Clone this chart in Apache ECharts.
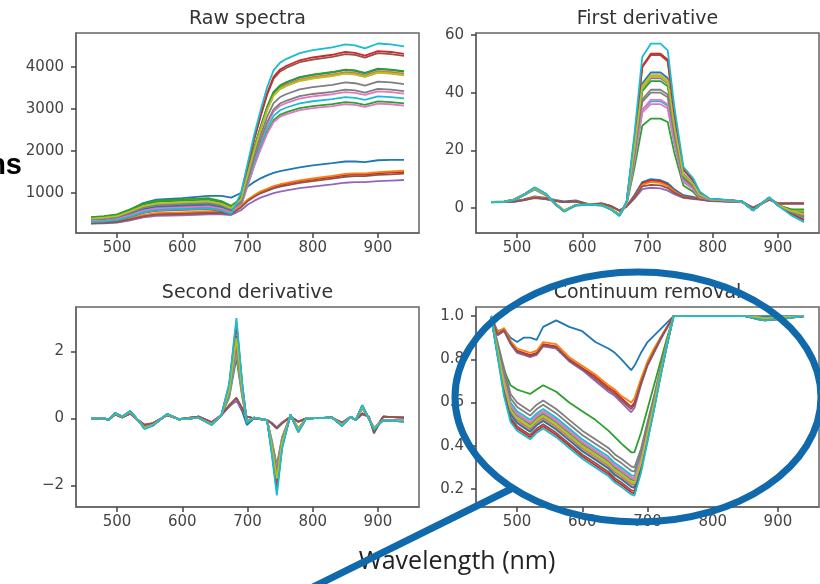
<!DOCTYPE html>
<html><head><meta charset="utf-8">
<script src="https://cdn.jsdelivr.net/npm/echarts@6/dist/echarts.min.js"></script>
<style>html,body{margin:0;padding:0;background:#fff}#c{width:820px;height:584px}</style>
</head><body><div id="c"></div>
<script>
// ---------- labels & ticks ----------
const panelTitles = ['Raw spectra', 'First derivative', 'Second derivative', 'Continuum removal'];
const xAxisLabel = 'Wavelength (nm)';
const sideLabel = 'ns';
const xTicks = [500, 600, 700, 800, 900];
const yTicksRaw = [1000, 2000, 3000, 4000];
const yTicksD1 = [0, 20, 40, 60];
const yTicksD2 = [-2, 0, 2];
const yTicksCR = [0.2, 0.4, 0.6, 0.8, 1.0];

// ---------- Raw spectra ----------
const wavelengthsRaw = [460,480,500,520,540,560,600,640,660,675,690,700,710,720,730,740,750,760,780,800,830,850,865,880,900,920,940];
const rawSpectra = [
 [420,440,480,600,760,840,880,930,930,890,1000,1150,1260,1350,1420,1480,1520,1550,1610,1660,1710,1750,1750,1735,1780,1790,1790],
 [360,382,418,518,634,691,720,742,684,590,858,1443,2028,2535,3003,3354,3510,3588,3705,3764,3822,3881,3861,3803,3900,3881,3842],
 [410,435,476,590,722,787,820,845,779,672,700,1177,1654,2067,2449,2735,2862,2926,3021,3069,3116,3164,3148,3100,3180,3164,3132],
 [290,300,320,380,460,500,520,540,540,520,675,825,930,1020,1080,1140,1185,1215,1275,1320,1380,1425,1440,1440,1470,1485,1500],
 [325,345,377,468,572,624,650,670,618,533,854,1436,2018,2522,2988,3337,3492,3570,3686,3744,3802,3861,3841,3783,3880,3861,3822],
 [320,339,371,461,563,614,640,659,608,525,953,1602,2252,2815,3334,3724,3897,3984,4114,4178,4243,4308,4287,4222,4330,4308,4265],
 [350,371,406,504,616,672,700,721,665,574,689,1158,1628,2035,2410,2692,2817,2880,2974,3020,3067,3114,3099,3052,3130,3114,3083],
 [340,360,394,490,598,653,680,700,646,558,803,1351,1898,2373,2811,3139,3285,3358,3468,3522,3577,3632,3614,3559,3650,3632,3595],
 [380,403,441,547,669,730,760,783,722,623,851,1432,2012,2516,2980,3328,3483,3560,3677,3735,3793,3851,3831,3773,3870,3851,3812],
 [310,329,360,446,546,595,620,639,589,508,726,1221,1716,2145,2541,2838,2970,3036,3135,3185,3234,3284,3267,3218,3300,3284,3251],
 [350,371,406,504,616,672,700,721,665,574,869,1462,2054,2568,3042,3397,3555,3634,3753,3812,3871,3930,3911,3851,3950,3930,3891],
 [300,310,330,395,475,520,540,560,560,540,689,842,949,1040,1102,1163,1209,1239,1301,1346,1408,1454,1469,1469,1499,1515,1530],
 [425,451,493,612,748,816,850,876,808,697,871,1465,2059,2574,3049,3406,3564,3643,3762,3821,3881,3940,3920,3861,3960,3940,3901],
 [300,318,348,432,528,576,600,618,570,492,964,1621,2278,2847,3373,3767,3942,4030,4161,4227,4292,4358,4336,4271,4380,4358,4314],
 [270,280,295,350,420,455,470,490,490,475,590,721,812,891,943,996,1035,1061,1114,1153,1205,1245,1258,1258,1284,1297,1310],
 [280,290,310,370,445,485,500,520,520,500,657,803,905,993,1051,1110,1153,1183,1241,1285,1343,1387,1402,1402,1431,1445,1460],
 [330,350,383,475,581,634,660,680,627,541,752,1265,1778,2223,2633,2941,3078,3146,3249,3300,3352,3403,3386,3335,3420,3403,3369],
 [370,392,429,533,651,710,740,762,703,607,766,1288,1810,2262,2680,2993,3132,3202,3306,3358,3410,3463,3445,3393,3480,3463,3428],
 [390,413,452,562,686,749,780,803,741,640,849,1428,2007,2509,2972,3320,3474,3551,3667,3725,3783,3841,3821,3764,3860,3841,3802],
 [305,323,354,439,537,586,610,628,580,500,1003,1687,2371,2964,3511,3922,4104,4195,4332,4400,4469,4537,4514,4446,4560,4537,4492]
];

// ---------- First derivative ----------
const wavelengthsD1 = [460,480,495,510,527,545,558,572,590,610,630,645,657,668,680,692,705,720,731,741,755,770,780,795,830,845,862,875,887,900,920,940];
const firstDerivative = [
 [2.0,2.0,2.4,3.0,4.0,3.5,2.8,2.3,2.6,1.3,1.6,0.6,-0.8,0.6,4.5,9.0,10.0,9.6,8.6,6.5,4.4,3.8,3.3,2.6,2.3,2.1,0.1,1.6,3.0,1.6,1.6,1.5],
 [2.0,2.2,2.8,4.5,6.8,4.6,1.6,-0.9,1.0,1.2,1.0,-0.5,-2.5,1.8,20.7,42.3,46,46,44.2,28.5,11.5,8.3,4.6,3.0,2.5,2.2,-0.8,1.5,3.5,1.0,-1.2,-3.0],
 [1.9,2.1,2.7,4.3,6.4,4.2,1.3,-1.2,0.9,1.1,0.9,-0.6,-2.6,1.2,14.0,28.5,31,31,29.8,19.2,7.8,5.6,3.1,2.8,2.4,2.1,-0.9,1.4,3.3,0.9,-0.5,-1.5],
 [2.1,2.0,2.2,2.8,3.7,3.2,2.5,2.0,2.3,1.2,1.5,0.5,-1.0,0.5,4.0,8.5,9.5,9.2,8.0,6.0,4.0,3.5,3.2,2.5,2.2,2.0,0.0,1.5,3.0,1.5,1.6,1.7],
 [2.0,2.2,2.8,4.4,6.7,4.5,1.5,-1.0,1.0,1.2,1.0,-0.5,-2.4,1.8,20.3,41.4,45,45,43.2,27.9,11.3,8.1,4.5,3.0,2.5,2.2,-0.8,1.5,3.5,1.0,-1.0,-2.8],
 [2.0,2.2,2.8,4.6,7.0,4.7,1.6,-1.1,1.0,1.2,1.0,-0.6,-2.6,2.1,23.9,48.8,53,53,50.9,32.9,13.3,9.5,5.3,3.1,2.6,2.3,-0.8,1.6,3.6,1.0,-1.8,-4.0],
 [2.0,2.1,2.7,4.4,6.6,4.4,1.4,-1.0,0.9,1.1,0.9,-0.5,-2.5,1.4,16.2,33.1,36,36,34.6,22.3,9.0,6.5,3.6,2.9,2.4,2.1,-0.8,1.4,3.4,0.9,-1.0,-2.5],
 [2.0,2.2,2.8,4.5,6.7,4.5,1.5,-1.0,1.0,1.2,1.0,-0.5,-2.5,1.6,18.0,36.8,40,40,38.4,24.8,10.0,7.2,4.0,3.0,2.5,2.2,-0.8,1.5,3.5,1.0,-1.0,-2.0],
 [2.0,2.2,2.8,4.5,6.8,4.6,1.5,-1.0,1.0,1.2,1.0,-0.5,-2.5,1.8,20.3,41.4,45.5,45.5,43.5,28.0,11.3,8.1,4.5,3.0,2.5,2.2,-0.8,1.5,3.5,1.0,-0.8,-1.0],
 [2.0,2.1,2.7,4.4,6.6,4.4,1.4,-1.1,0.9,1.1,0.9,-0.5,-2.5,1.5,16.7,34.0,37,37,35.5,22.9,9.3,6.7,3.7,2.9,2.4,2.1,-0.8,1.4,3.4,0.9,-1.5,-3.5],
 [2.0,2.2,2.8,4.5,6.9,4.6,1.6,-1.0,1.0,1.2,1.0,-0.5,-2.5,1.9,21.2,43.2,47,47,45.1,29.1,11.8,8.5,4.7,3.0,2.5,2.2,-0.8,1.5,3.5,1.0,-1.2,-2.8],
 [2.0,2.0,2.2,2.8,3.8,3.2,2.5,2.0,2.3,1.2,1.5,0.5,-1.0,0.5,3.8,8.0,9.0,8.7,7.6,5.8,3.9,3.4,3.1,2.5,2.2,2.0,0.0,1.5,3.0,1.5,1.5,1.6],
 [2.1,2.3,2.9,4.6,6.9,4.6,1.5,-0.9,1.1,1.3,1.1,-0.4,-2.4,1.8,19.8,40.5,44,44,42.2,27.3,11.0,7.9,4.4,3.0,2.5,2.2,-0.8,1.5,3.5,1.0,-0.5,-0.5],
 [2.0,2.2,2.8,4.6,7.0,4.7,1.6,-1.1,1.0,1.2,1.0,-0.6,-2.6,2.1,24.1,49.2,53.5,53.5,51.4,33.2,13.4,9.6,5.4,3.1,2.6,2.3,-0.8,1.6,3.6,1.0,-2.0,-4.3],
 [2.0,2.0,2.1,2.6,3.4,3.0,2.4,2.0,2.2,1.2,1.4,0.5,-0.9,0.5,3.2,6.5,7.0,6.8,6.0,4.8,3.5,3.1,2.9,2.4,2.1,1.9,0.1,1.4,2.8,1.5,1.5,1.5],
 [2.0,2.0,2.2,2.7,3.6,3.1,2.5,2.0,2.3,1.2,1.5,0.5,-1.0,0.5,3.6,7.5,8.0,7.8,6.9,5.3,3.7,3.3,3.0,2.5,2.2,2.0,0.0,1.5,3.0,1.5,1.6,1.6],
 [2.0,2.1,2.7,4.4,6.6,4.4,1.4,-1.0,0.9,1.1,0.9,-0.5,-2.5,1.5,16.7,34.0,37.5,37.5,36.0,23.2,9.4,6.7,3.7,2.9,2.4,2.1,-0.8,1.4,3.4,0.9,-1.2,-3.0],
 [2.0,2.2,2.8,4.5,6.7,4.5,1.5,-1.0,1.0,1.2,1.0,-0.5,-2.5,1.6,18.5,37.7,41,41,39.4,25.4,10.3,7.4,4.1,3.0,2.5,2.2,-0.8,1.5,3.5,1.0,-1.3,-3.2],
 [2.0,2.2,2.8,4.5,6.8,4.6,1.6,-1.0,1.0,1.2,1.0,-0.5,-2.5,1.8,20.7,42.3,46,46,44.2,28.5,11.5,8.3,4.6,3.0,2.5,2.2,-0.8,1.5,3.5,1.0,-1.0,-2.2],
 [1.9,2.1,2.7,4.6,7.2,4.8,1.5,-1.3,0.9,1.1,0.9,-0.7,-2.8,2.3,25.7,52.4,57,57,54.7,35.3,14.3,10.3,5.7,3.2,2.6,2.3,-0.9,1.6,3.7,0.8,-2.5,-5.0]
];

// ---------- Second derivative ----------
const wavelengthsD2 = [460,480,487,497,508,520,532,542,555,577,595,625,645,660,672,683,692,699,710,730,737,745,753,766,778,790,830,845,858,866,876,886,894,908,940];
const secondDerivative = [
 [0,0,-0.05,0.12,0.03,0.15,-0.05,-0.2,-0.15,0.1,-0.02,0.05,-0.12,0.1,0.35,0.55,0.2,-0.2,0.0,-0.05,-0.15,-0.28,-0.12,0.05,-0.1,0,0.02,-0.12,0.05,-0.05,0.12,0.05,-0.35,0.05,0.02],
 [0,0,-0.05,0.15,0.05,0.2,-0.05,-0.28,-0.2,0.12,-0.03,0.02,-0.18,0.1,0.84,2.4,0.84,-0.1,0.02,-0.05,-0.81,-1.8,-0.72,0.1,-0.35,0,0.02,-0.2,0.05,-0.05,0.35,0,-0.3,-0.05,-0.08],
 [0,0,-0.05,0.14,0.05,0.18,-0.05,-0.26,-0.19,0.11,-0.03,0.02,-0.17,0.1,0.63,1.8,0.63,-0.08,0.02,-0.05,-0.63,-1.4,-0.56,0.1,-0.3,0,0.02,-0.18,0.05,-0.05,0.3,0,-0.28,-0.05,-0.06],
 [0,0,-0.05,0.12,0.03,0.15,-0.05,-0.2,-0.15,0.1,-0.02,0.05,-0.12,0.1,0.4,0.6,0.3,0.05,0,-0.05,-0.15,-0.3,-0.15,0.05,-0.1,0,0.02,-0.15,0.05,-0.05,0.15,0.05,-0.4,0.05,0.02],
 [0,0,-0.05,0.15,0.05,0.2,-0.05,-0.28,-0.2,0.12,-0.03,0.02,-0.18,0.1,0.82,2.35,0.82,-0.1,0.02,-0.05,-0.79,-1.75,-0.7,0.1,-0.35,0,0.02,-0.2,0.05,-0.05,0.35,0,-0.3,-0.05,-0.08],
 [0,0,-0.05,0.16,0.05,0.21,-0.05,-0.3,-0.21,0.13,-0.03,0.02,-0.19,0.1,0.98,2.8,0.98,-0.12,0.02,-0.05,-0.95,-2.1,-0.84,0.1,-0.4,0,0.02,-0.22,0.05,-0.05,0.38,0,-0.32,-0.05,-0.1],
 [0,0,-0.05,0.14,0.05,0.19,-0.05,-0.27,-0.19,0.12,-0.03,0.02,-0.17,0.1,0.7,2.0,0.7,-0.09,0.02,-0.05,-0.68,-1.5,-0.6,0.1,-0.32,0,0.02,-0.19,0.05,-0.05,0.33,0,-0.29,-0.05,-0.07],
 [0,0,-0.05,0.15,0.05,0.2,-0.05,-0.28,-0.2,0.12,-0.03,0.02,-0.18,0.1,0.77,2.2,0.77,-0.1,0.02,-0.05,-0.74,-1.65,-0.66,0.1,-0.34,0,0.02,-0.2,0.05,-0.05,0.34,0,-0.3,-0.05,-0.08],
 [0,0,-0.05,0.15,0.05,0.2,-0.05,-0.28,-0.2,0.12,-0.03,0.02,-0.18,0.1,0.84,2.4,0.84,-0.1,0.02,-0.05,-0.81,-1.8,-0.72,0.1,-0.35,0,0.02,-0.2,0.05,-0.05,0.35,0,-0.3,-0.05,-0.08],
 [0,0,-0.05,0.14,0.05,0.19,-0.05,-0.27,-0.19,0.12,-0.03,0.02,-0.17,0.1,0.7,2.0,0.7,-0.09,0.02,-0.05,-0.7,-1.55,-0.62,0.1,-0.33,0,0.02,-0.19,0.05,-0.05,0.33,0,-0.29,-0.05,-0.07],
 [0,0,-0.05,0.15,0.05,0.2,-0.05,-0.29,-0.2,0.12,-0.03,0.02,-0.18,0.1,0.86,2.45,0.86,-0.1,0.02,-0.05,-0.83,-1.85,-0.74,0.1,-0.36,0,0.02,-0.2,0.05,-0.05,0.36,0,-0.31,-0.05,-0.08],
 [0,0,-0.05,0.12,0.03,0.15,-0.05,-0.2,-0.15,0.1,-0.02,0.05,-0.12,0.1,0.38,0.58,0.28,0.05,0,-0.05,-0.14,-0.28,-0.14,0.05,-0.1,0,0.02,-0.15,0.05,-0.05,0.14,0.05,-0.38,0.05,0.02],
 [0,0,-0.05,0.15,0.05,0.2,-0.05,-0.28,-0.2,0.12,-0.03,0.02,-0.18,0.1,0.8,2.3,0.8,-0.1,0.02,-0.05,-0.79,-1.75,-0.7,0.1,-0.35,0,0.02,-0.2,0.05,-0.05,0.35,0,-0.3,-0.05,-0.08],
 [0,0,-0.05,0.16,0.05,0.21,-0.05,-0.3,-0.21,0.13,-0.03,0.02,-0.19,0.1,1.0,2.85,1.0,-0.12,0.02,-0.05,-0.97,-2.15,-0.86,0.1,-0.4,0,0.02,-0.22,0.05,-0.05,0.38,0,-0.32,-0.05,-0.1],
 [0,0,-0.05,0.11,0.03,0.14,-0.05,-0.18,-0.14,0.09,-0.02,0.05,-0.11,0.1,0.36,0.52,0.27,0.05,0,-0.05,-0.13,-0.26,-0.13,0.05,-0.09,0,0.02,-0.14,0.05,-0.05,0.13,0.05,-0.42,0.05,0.02],
 [0,0,-0.05,0.12,0.03,0.15,-0.05,-0.2,-0.15,0.1,-0.02,0.05,-0.12,0.1,0.39,0.62,0.3,0.05,0,-0.05,-0.15,-0.31,-0.15,0.05,-0.1,0,0.02,-0.15,0.05,-0.05,0.15,0.05,-0.45,0.05,0.02],
 [0,0,-0.05,0.14,0.05,0.19,-0.05,-0.27,-0.19,0.12,-0.03,0.02,-0.17,0.1,0.72,2.05,0.72,-0.09,0.02,-0.05,-0.7,-1.55,-0.62,0.1,-0.33,0,0.02,-0.19,0.05,-0.05,0.33,0,-0.29,-0.05,-0.07],
 [0,0,-0.05,0.15,0.05,0.2,-0.05,-0.28,-0.2,0.12,-0.03,0.02,-0.18,0.1,0.75,2.15,0.75,-0.1,0.02,-0.05,-0.72,-1.6,-0.64,0.1,-0.34,0,0.02,-0.2,0.05,-0.05,0.34,0,-0.3,-0.05,-0.08],
 [0,0,-0.05,0.15,0.05,0.2,-0.05,-0.28,-0.2,0.12,-0.03,0.02,-0.18,0.1,0.84,2.4,0.84,-0.1,0.02,-0.05,-0.81,-1.8,-0.72,0.1,-0.35,0,0.02,-0.2,0.05,-0.05,0.35,0,-0.3,-0.05,-0.08],
 [0,0,-0.05,0.17,0.05,0.22,-0.05,-0.32,-0.22,0.14,-0.03,0.02,-0.2,0.1,1.05,3.0,1.05,-0.13,0.02,-0.05,-1.04,-2.3,-0.92,0.12,-0.42,0,0.02,-0.23,0.05,-0.05,0.4,0,-0.34,-0.05,-0.1]
];

// ---------- Continuum removal ----------
const wavelengthsCR = [460,470,480,490,500,510,520,530,540,560,580,600,620,640,650,660,675,680,690,700,710,720,730,740,760,800,850,870,880,900,940];
const continuumRemoval = [
 [1.0,0.93,0.94,0.9,0.88,0.9,0.9,0.89,0.95,0.98,0.95,0.93,0.88,0.85,0.83,0.8,0.75,0.77,0.83,0.88,0.91,0.94,0.97,1.0,1.0,1.0,1.0,1.0,1.0,1.0,1.0],
 [1.0,0.835,0.67,0.55,0.51,0.49,0.47,0.5,0.52,0.48,0.43,0.38,0.34,0.3,0.27,0.25,0.215,0.21,0.31,0.45,0.585,0.735,0.87,1.0,1.0,1.0,1.0,0.99,0.985,0.99,1.0],
 [1.0,0.85,0.75,0.68,0.66,0.65,0.64,0.66,0.68,0.65,0.6,0.56,0.52,0.47,0.44,0.41,0.37,0.37,0.46,0.57,0.68,0.79,0.9,1.0,1.0,1.0,1.0,0.99,0.985,0.99,1.0],
 [1.0,0.92,0.94,0.88,0.84,0.83,0.82,0.83,0.87,0.86,0.8,0.76,0.72,0.67,0.65,0.62,0.58,0.6,0.7,0.78,0.84,0.9,0.95,1.0,1.0,1.0,1.0,0.99,0.985,0.99,1.0],
 [1.0,0.84,0.68,0.56,0.52,0.5,0.48,0.51,0.53,0.49,0.44,0.39,0.35,0.31,0.28,0.26,0.225,0.22,0.317,0.453,0.59,0.737,0.873,1.0,1.0,1.0,1.0,0.995,0.99,0.995,1.0],
 [1.0,0.825,0.65,0.53,0.49,0.47,0.45,0.48,0.5,0.46,0.41,0.36,0.32,0.28,0.25,0.23,0.195,0.19,0.292,0.433,0.575,0.727,0.868,1.0,1.0,1.0,1.0,0.985,0.98,0.985,1.0],
 [1.0,0.855,0.71,0.59,0.55,0.53,0.51,0.54,0.56,0.52,0.47,0.42,0.38,0.34,0.31,0.29,0.255,0.25,0.34,0.474,0.605,0.747,0.878,1.0,1.0,1.0,1.0,0.99,0.985,0.99,1.0],
 [1.0,0.88,0.76,0.64,0.6,0.58,0.56,0.59,0.61,0.57,0.52,0.47,0.43,0.39,0.36,0.34,0.305,0.3,0.385,0.51,0.63,0.76,0.885,1.0,1.0,1.0,1.0,0.99,0.985,0.99,1.0],
 [1.0,0.845,0.69,0.57,0.53,0.51,0.49,0.52,0.54,0.5,0.45,0.4,0.36,0.32,0.29,0.27,0.235,0.23,0.325,0.46,0.595,0.74,0.875,1.0,1.0,1.0,1.0,0.99,0.985,0.99,1.0],
 [1.0,0.86,0.72,0.6,0.56,0.54,0.52,0.55,0.57,0.53,0.48,0.43,0.39,0.35,0.32,0.3,0.265,0.26,0.35,0.48,0.61,0.75,0.88,1.0,1.0,1.0,1.0,0.99,0.985,0.99,1.0],
 [1.0,0.83,0.665,0.545,0.505,0.485,0.465,0.495,0.515,0.475,0.425,0.375,0.335,0.295,0.265,0.245,0.21,0.205,0.305,0.445,0.583,0.732,0.87,1.0,1.0,1.0,1.0,0.995,0.99,0.995,1.0],
 [1.0,0.925,0.945,0.885,0.85,0.84,0.83,0.84,0.88,0.87,0.81,0.77,0.73,0.68,0.66,0.63,0.6,0.62,0.71,0.79,0.85,0.9,0.95,1.0,1.0,1.0,1.0,0.99,0.985,0.99,1.0],
 [1.0,0.85,0.7,0.58,0.54,0.52,0.5,0.53,0.55,0.51,0.46,0.41,0.37,0.33,0.3,0.28,0.245,0.24,0.333,0.467,0.6,0.743,0.877,1.0,1.0,1.0,1.0,0.99,0.985,0.99,1.0],
 [1.0,0.82,0.64,0.52,0.48,0.46,0.44,0.47,0.49,0.45,0.4,0.35,0.31,0.27,0.24,0.22,0.185,0.18,0.283,0.427,0.57,0.723,0.867,1.0,1.0,1.0,1.0,0.985,0.98,0.985,1.0],
 [1.0,0.91,0.93,0.87,0.83,0.82,0.81,0.82,0.86,0.85,0.79,0.75,0.7,0.65,0.63,0.6,0.555,0.575,0.68,0.77,0.83,0.89,0.945,1.0,1.0,1.0,1.0,0.99,0.985,0.99,1.0],
 [1.0,0.915,0.935,0.875,0.835,0.825,0.815,0.825,0.865,0.855,0.795,0.755,0.71,0.66,0.64,0.61,0.57,0.59,0.69,0.775,0.835,0.895,0.948,1.0,1.0,1.0,1.0,0.99,0.985,0.99,1.0],
 [1.0,0.852,0.705,0.585,0.545,0.525,0.505,0.535,0.555,0.515,0.465,0.415,0.375,0.335,0.305,0.285,0.25,0.245,0.337,0.47,0.603,0.745,0.878,1.0,1.0,1.0,1.0,0.99,0.985,0.99,1.0],
 [1.0,0.87,0.74,0.62,0.58,0.56,0.54,0.57,0.59,0.55,0.5,0.45,0.41,0.37,0.34,0.32,0.285,0.28,0.366,0.494,0.62,0.756,0.884,1.0,1.0,1.0,1.0,0.99,0.985,0.99,1.0],
 [1.0,0.842,0.685,0.565,0.525,0.505,0.485,0.515,0.535,0.495,0.445,0.395,0.355,0.315,0.285,0.265,0.23,0.225,0.321,0.457,0.593,0.738,0.874,1.0,1.0,1.0,1.0,0.995,0.99,0.995,1.0],
 [1.0,0.815,0.63,0.51,0.47,0.45,0.43,0.46,0.48,0.44,0.39,0.34,0.3,0.26,0.23,0.21,0.175,0.17,0.275,0.42,0.565,0.72,0.865,1.0,1.0,1.0,1.0,0.985,0.98,0.985,1.0]
];

// ---------- styling / layout ----------
const palette = ['#1f77b4','#ff7f0e','#2ca02c','#d62728','#9467bd','#8c564b','#e377c2','#7f7f7f','#bcbd22','#17becf'];
const accent = '#1069aa';
const fontTick = '"DejaVu Sans", sans-serif';

const panels = [
  { x: wavelengthsRaw, rows: rawSpectra, left: 76, top: 33, yMin: 48, yMax: 4810, yTicks: yTicksRaw, fmt: v => String(v) },
  { x: wavelengthsD1, rows: firstDerivative, left: 476, top: 33, yMin: -8.7, yMax: 60.7, yTicks: yTicksD1, fmt: v => String(v) },
  { x: wavelengthsD2, rows: secondDerivative, left: 76, top: 307, yMin: -2.65, yMax: 3.33, yTicks: yTicksD2, fmt: v => String(v).replace('-', '\u2212') },
  { x: wavelengthsCR, rows: continuumRemoval, left: 476, top: 307, yMin: 0.117, yMax: 1.042, yTicks: yTicksCR, fmt: v => Number(v).toFixed(1) }
];
const PW = 343, PH = 200;
const frameColor = '#666';

const grid = [], xAxis = [], yAxis = [], series = [], graphic = [];
panels.forEach((p, k) => {
  grid.push({ left: p.left, top: p.top, width: PW, height: PH, show: true, borderColor: frameColor, borderWidth: 1.5 });
  xAxis.push({
    gridIndex: k, type: 'value', min: 437, max: 963,
    splitLine: { show: false },
    axisLine: { show: true, onZero: false, lineStyle: { color: frameColor, width: 1.5 } },
    axisTick: { show: true, length: 5, customValues: xTicks, lineStyle: { color: '#444', width: 1.5 } },
    axisLabel: { customValues: xTicks, margin: 8, fontSize: 15, color: '#444', fontFamily: fontTick }
  });
  yAxis.push({
    gridIndex: k, type: 'value', min: p.yMin, max: p.yMax,
    splitLine: { show: false },
    axisLine: { show: true, onZero: false, lineStyle: { color: frameColor, width: 1.5 } },
    axisTick: { show: true, length: 5, customValues: p.yTicks, lineStyle: { color: '#444', width: 1.5 } },
    axisLabel: { customValues: p.yTicks, margin: 12, fontSize: 15, color: '#444', fontFamily: fontTick, formatter: p.fmt }
  });
  p.rows.forEach((row, i) => {
    series.push({
      type: 'line', xAxisIndex: k, yAxisIndex: k, showSymbol: false, symbol: 'none',
      clip: true, animation: false, silent: true,
      lineStyle: { width: 1.8, color: palette[i % 10] },
      data: p.x.map((w, j) => [w, row[j]])
    });
  });
  graphic.push({
    type: 'text', x: p.left + PW / 2, y: p.top - 14, z: 10,
    style: { text: panelTitles[k], align: 'center', textAlign: 'center', verticalAlign: 'middle', textVerticalAlign: 'middle',
             font: '19px "DejaVu Sans", sans-serif', fill: '#333' }
  });
});

graphic.push({
  type: 'text', x: 22, y: 166, z: 10,
  style: { text: sideLabel, align: 'right', textAlign: 'right', verticalAlign: 'middle', textVerticalAlign: 'middle',
           font: 'bold 29px "Liberation Sans", Arial, sans-serif', fill: '#000' }
});
graphic.push({
  type: 'text', x: 457, y: 562, z: 10,
  style: { text: xAxisLabel, align: 'center', textAlign: 'center', verticalAlign: 'middle', textVerticalAlign: 'middle',
           font: '25px "Open Sans", sans-serif', fill: '#222' }
});
graphic.push({
  type: 'ellipse', z: 100, silent: true,
  shape: { cx: 638, cy: 397, rx: 183, ry: 125 },
  style: { fill: 'none', stroke: accent, lineWidth: 7 }
});
graphic.push({
  type: 'line', z: 100, silent: true,
  shape: { x1: 511, y1: 489, x2: 303, y2: 592 },
  style: { stroke: accent, lineWidth: 7 }
});

const chart = echarts.init(document.getElementById('c'), null, { renderer: 'canvas' });
chart.setOption({
  animation: false,
  backgroundColor: '#fff',
  grid, xAxis, yAxis, series, graphic
});
</script>
</body></html>
